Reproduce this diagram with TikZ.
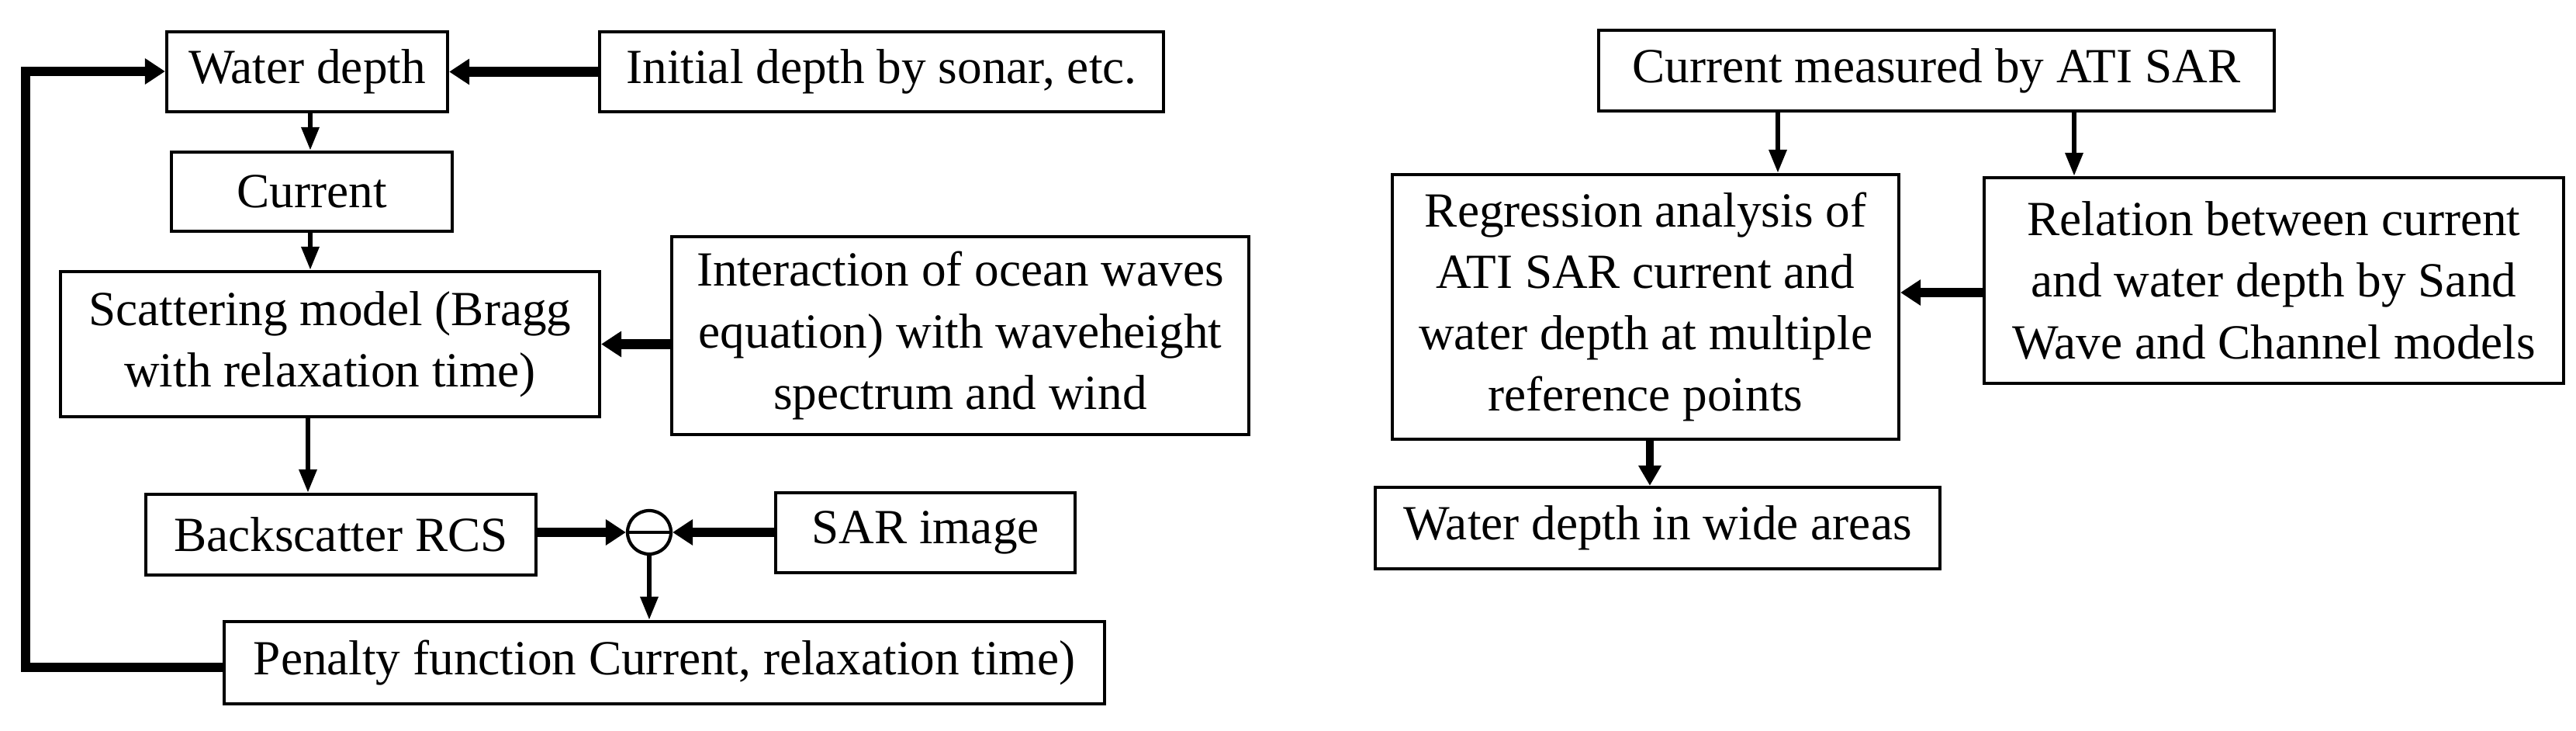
\documentclass[tikz,border=0pt]{standalone}
\usepackage{fontspec}
\setmainfont{Liberation Serif}
\usetikzlibrary{arrows.meta}
\begin{document}
\begin{tikzpicture}[
  box/.style={draw, line width=1.2pt, inner sep=0pt, align=center, font=\fontsize{18}{22.5}\selectfont},
  thin/.style={line width=1.8pt, -{Triangle[length=0.3cm,width=0.22cm]}},
  thick/.style={line width=3.6pt, -{Triangle[length=0.26cm,width=0.32cm]}},
  thickline/.style={line width=3.6pt}
]
\useasboundingbox (0,0) rectangle (33.21,-9.42);
\node[box, minimum width=3.62cm, minimum height=1.03cm] (wd) at (3.96,-0.925) {Water depth};
\node[box, minimum width=7.27cm, minimum height=1.03cm] (init) at (11.365,-0.925) {Initial depth by sonar, etc.};
\node[box, minimum width=3.62cm, minimum height=1.02cm] (cur) at (4.02,-2.47) {Current};
\node[box, minimum width=6.95cm, minimum height=1.87cm] (scat) at (4.255,-4.435) {Scattering model (Bragg\\with relaxation time)};
\node[box, minimum width=7.44cm, minimum height=2.55cm] (inter) at (12.38,-4.325) {Interaction of ocean waves\\equation) with waveheight\\spectrum and wind};
\node[box, minimum width=5.03cm, minimum height=1.04cm] (back) at (4.395,-6.89) {Backscatter RCS};
\node[draw, line width=1.2pt, circle, minimum size=0.56cm, inner sep=0pt] (circ) at (8.37,-6.86) {};
\draw[line width=1.2pt] (circ.west) -- (circ.east);
\node[box, minimum width=3.86cm, minimum height=1.03cm] (sar) at (11.93,-6.865) {SAR image};
\node[box, minimum width=11.35cm, minimum height=1.06cm] (pen) at (8.565,-8.54) {Penalty function Current, relaxation time)};
\coordinate (ax1) at (4.0,0);
\coordinate (ax2) at (3.97,0);
\coordinate (fbx) at (0.33,0);
\coordinate (fby) at (0,-8.6);
\coordinate (wdy) at (0,-0.92);
\draw[thin] (wd.south -| ax1) -- (cur.north -| ax1);
\draw[thin] (cur.south -| ax1) -- (scat.north -| ax1);
\draw[thin] (scat.south -| ax2) -- (back.north -| ax2);
\draw[thick] (init) -- (wd);
\draw[thick] (inter.west |- scat) -- (scat.east);
\draw[thick] (back.east |- circ) -- (circ.west);
\draw[thick] (sar.west |- circ) -- (circ.east);
\draw[thin] (circ.south) -- (pen.north -| circ);
\draw[thick] (pen.west |- fby) -- (fbx |- fby) -- (fbx |- wdy) -- (wd.west |- wdy);
% right
\node[box, minimum width=8.71cm, minimum height=1.04cm] (cm) at (24.965,-0.91) {Current measured by ATI SAR};
\node[box, minimum width=6.53cm, minimum height=3.41cm] (reg) at (21.215,-3.955) {Regression analysis of\\ATI SAR current and\\water depth at multiple\\reference points};
\node[box, minimum width=7.47cm, minimum height=2.65cm] (rel) at (29.315,-3.615) {Relation between current\\and water depth by Sand\\Wave and Channel models};
\node[box, minimum width=7.28cm, minimum height=1.05cm] (wide) at (21.37,-6.805) {Water depth in wide areas};
\coordinate (bx1) at (22.92,0);
\coordinate (bx2) at (26.74,0);
\coordinate (bx3) at (21.27,0);
\coordinate (by1) at (0,-3.77);
\draw[thin] (cm.south -| bx1) -- (reg.north -| bx1);
\draw[thin] (cm.south -| bx2) -- (rel.north -| bx2);
\draw[thick] (rel.west |- by1) -- (reg.east |- by1);
\draw[line width=3pt, -{Triangle[length=0.26cm,width=0.28cm]}] (reg.south -| bx3) -- (wide.north -| bx3);
\end{tikzpicture}
\end{document}
